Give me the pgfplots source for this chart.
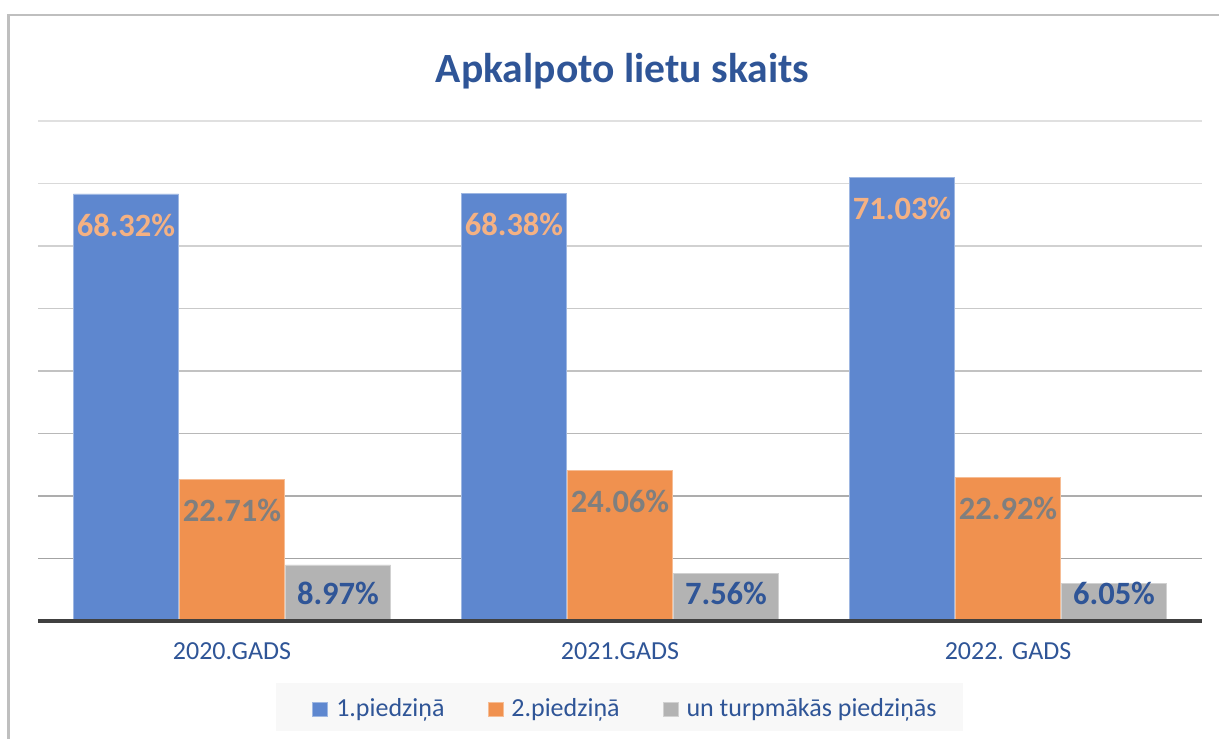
\documentclass[border=0pt]{standalone}
\usepackage{pgfplots}
\pgfplotsset{compat=1.18}
\usepackage{fontspec}
\setmainfont{Carlito}
\definecolor{barblue}{HTML}{5E87CF}
\definecolor{barorange}{HTML}{F0914F}
\definecolor{bargray}{HTML}{B3B3B3}
\definecolor{titleblue}{HTML}{2F5597}
\definecolor{lblorange}{HTML}{F4B183}
\definecolor{lblgray}{HTML}{7F7F7F}
\definecolor{framegray}{HTML}{BFBFBF}
\definecolor{axisdark}{HTML}{404040}
\definecolor{legbg}{HTML}{F8F8F8}
\begin{document}
\begin{tikzpicture}
\useasboundingbox (0,0) rectangle (914.25pt,553.5pt);
\fill[legbg] (207pt,5.25pt) rectangle (722.25pt,41.25pt);
\draw[framegray, line width=2pt] (6.5pt,-20pt) -- (6.5pt,542.25pt) -- (930pt,542.25pt);
\node[anchor=base, text=titleblue, font=\bfseries\fontsize{31.2}{31.2}\selectfont, inner sep=0pt] at (466.9pt,491.25pt) {Apkalpoto lietu skaits};
\begin{axis}[
  at={(28.5pt,87.75pt)}, anchor=south west,
  scale only axis, width=873pt, height=375pt,
  xmin=-0.5, xmax=2.5, ymin=0, ymax=80,
  axis line style={draw=none}, tick style={draw=none}, major tick length=0pt,
  ytick=\empty,
  xtick={0,1,2}, xticklabels={2020.GADS,2021.GADS,2022. GADS},
  xticklabel style={anchor=north, inner sep=0pt, yshift=-16pt, text=titleblue, font=\fontsize{19.5}{19.5}\selectfont},
  ybar=0.5pt, bar width=79pt,
  clip=false,
  legend columns=3,
  legend style={at={(0.5039,-0.1754)}, anchor=center, draw=none, fill=none, inner sep=0pt,
    /tikz/every odd column/.append style={column sep=6pt},
    /tikz/every even column/.append style={column sep=32.25pt},
    nodes={inner sep=0pt, anchor=base west, text=titleblue, font=\fontsize{19.5}{19.5}\selectfont}},
  legend image code/.code={\fill[#1] (0pt,0pt) rectangle (11.25pt,10.5pt);},
]
\draw[black!36, line width=0.9pt] (axis cs:-0.5,10) -- (axis cs:2.5,10);
\draw[black!32, line width=0.9pt] (axis cs:-0.5,20) -- (axis cs:2.5,20);
\draw[black!28, line width=0.9pt] (axis cs:-0.5,30) -- (axis cs:2.5,30);
\draw[black!24, line width=0.9pt] (axis cs:-0.5,40) -- (axis cs:2.5,40);
\draw[black!21, line width=0.9pt] (axis cs:-0.5,50) -- (axis cs:2.5,50);
\draw[black!18, line width=0.9pt] (axis cs:-0.5,60) -- (axis cs:2.5,60);
\draw[black!15, line width=0.9pt] (axis cs:-0.5,70) -- (axis cs:2.5,70);
\draw[black!12, line width=0.9pt] (axis cs:-0.5,80) -- (axis cs:2.5,80);
\addplot[fill=barblue, draw=barblue!60!white, line width=0.6pt,
  point meta=explicit symbolic, nodes near coords,
  nodes near coords style={anchor=center, yshift=-23.25pt, text=lblorange, font=\bfseries\fontsize{24.4}{24.4}\selectfont}]
  coordinates {(0,68.32)[68.32\%] (1,68.38)[68.38\%] (2,71.03)[71.03\%]};
\addplot[fill=barorange, draw=barorange!60!white, line width=0.6pt,
  point meta=explicit symbolic, nodes near coords,
  nodes near coords style={anchor=center, yshift=-23.25pt, text=lblgray, font=\bfseries\fontsize{24.4}{24.4}\selectfont}]
  coordinates {(0,22.71)[22.71\%] (1,24.06)[24.06\%] (2,22.92)[22.92\%]};
\addplot[fill=bargray, draw=bargray!60!white, line width=0.6pt,
  point meta=explicit symbolic, nodes near coords,
  visualization depends on={y \as \rawy},
  nodes near coords style={anchor=center, yshift={(4.48-\rawy)*4.6875pt}, text=titleblue, font=\bfseries\fontsize{24.4}{24.4}\selectfont}]
  coordinates {(0,8.97)[8.97\%] (1,7.56)[7.56\%] (2,6.05)[6.05\%]};
\draw[axisdark, line width=2.6pt] (axis cs:-0.5,0) -- (axis cs:2.5,0);
\legend{1.piedziņā, 2.piedziņā, un turpmākās piedziņās}
\end{axis}
\end{tikzpicture}
\end{document}
